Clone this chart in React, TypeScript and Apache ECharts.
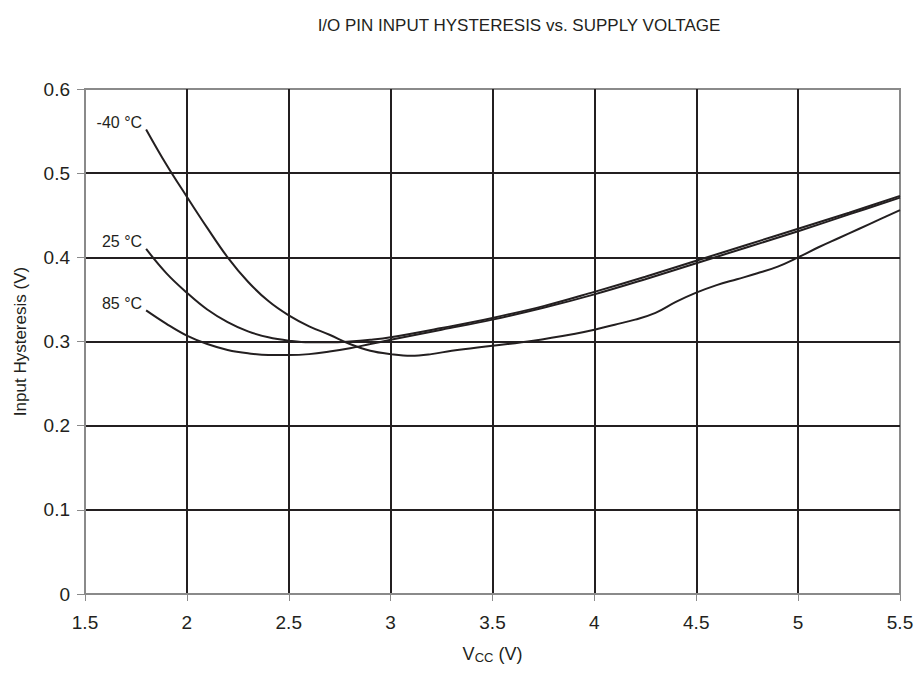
import React, { useEffect, useRef } from "react";
import * as echarts from "echarts";

const titleText = "I/O PIN INPUT HYSTERESIS vs. SUPPLY VOLTAGE";
const yAxisName = "Input Hysteresis (V)";

const vccM40 = [1.8, 1.9, 2.0, 2.1, 2.2, 2.3, 2.4, 2.5, 2.6, 2.7, 2.8, 2.9, 3.0, 3.1, 3.2, 3.3, 3.5, 3.7, 3.9, 4.0, 4.1, 4.2, 4.3, 4.4, 4.5, 4.6, 4.7, 4.8, 4.9, 5.0, 5.1, 5.2, 5.3, 5.4, 5.5];
const hystM40 = [0.552, 0.51, 0.472, 0.435, 0.4, 0.371, 0.348, 0.331, 0.318, 0.308, 0.297, 0.289, 0.285, 0.283, 0.285, 0.289, 0.295, 0.301, 0.309, 0.314, 0.32, 0.326, 0.334, 0.347, 0.358, 0.367, 0.374, 0.381, 0.389, 0.4, 0.412, 0.423, 0.434, 0.445, 0.456];

const vcc25 = [1.8, 1.9, 2.0, 2.1, 2.2, 2.3, 2.4, 2.5, 2.6, 2.7, 2.8, 2.9, 3.0, 3.25, 3.5, 3.75, 4.0, 4.25, 4.5, 4.75, 5.0, 5.25, 5.5];
const hyst25 = [0.41, 0.381, 0.358, 0.338, 0.323, 0.312, 0.305, 0.301, 0.299, 0.299, 0.3, 0.302, 0.305, 0.316, 0.328, 0.342, 0.359, 0.377, 0.396, 0.415, 0.434, 0.453, 0.473];

const vcc85 = [1.8, 1.9, 2.0, 2.1, 2.2, 2.3, 2.4, 2.5, 2.6, 2.7, 2.8, 2.9, 3.0, 3.25, 3.5, 3.75, 4.0, 4.25, 4.5, 4.75, 5.0, 5.25, 5.5];
const hyst85 = [0.337, 0.321, 0.307, 0.297, 0.29, 0.286, 0.284, 0.284, 0.285, 0.288, 0.292, 0.297, 0.302, 0.314, 0.326, 0.34, 0.356, 0.374, 0.393, 0.412, 0.431, 0.451, 0.471];

const seriesNames = ["-40 °C", "25 °C", "85 °C"];

const INK = "#231f20";
const FONT = "Liberation Sans, Arial, sans-serif";

function pairs(xs: number[], ys: number[]) {
  return xs.map((x, i) => [x, ys[i]]);
}

function makeSeries(name: string, xs: number[], ys: number[]) {
  return {
    name,
    type: "line",
    smooth: 0.4,
    symbol: "none",
    lineStyle: { color: INK, width: 2 },
    data: pairs(xs, ys),
    z: 5,
    markPoint: {
      symbol: "circle",
      symbolSize: 0,
      silent: true,
      data: [{ coord: [xs[0], ys[0]] }],
      label: {
        show: true,
        formatter: name,
        position: "left",
        distance: 4,
        offset: [0, -7],
        color: INK,
        fontSize: 16,
        fontFamily: FONT,
      },
    },
  };
}

export default function App() {
  const ref = useRef<HTMLDivElement>(null);
  useEffect(() => {
    if (!ref.current) return;
    const chart = echarts.init(ref.current, null, { renderer: "svg" });
    chart.setOption({
      animation: false,
      backgroundColor: "#ffffff",
      title: {
        text: titleText,
        left: 514,
        top: 12,
        textAlign: "center",
        textStyle: { color: INK, fontSize: 17, fontWeight: "normal", fontFamily: FONT },
      },
      grid: {
        left: 85,
        right: 23,
        top: 89,
        bottom: 79,
        show: true,
        borderColor: "#8a8a8a",
        borderWidth: 2,
        backgroundColor: "transparent",
      },
      xAxis: {
        type: "value",
        min: 1.5,
        max: 5.5,
        interval: 0.5,
        name: "{a|V}{b|CC}{a| (V)}",
        nameLocation: "middle",
        nameGap: 50,
        nameTextStyle: {
          rich: {
            a: { fontSize: 18, color: INK, fontFamily: FONT },
            b: { fontSize: 13, color: INK, fontFamily: FONT, padding: [7, 0, 0, 0] },
          },
        },
        axisLine: { show: true, lineStyle: { color: "#8a8a8a", width: 2 } },
        axisTick: { show: true, length: 7, lineStyle: { color: "#8a8a8a", width: 1 } },
        axisLabel: { color: INK, fontSize: 19, fontFamily: FONT, margin: 19 },
        splitLine: { show: true, showMinLine: false, showMaxLine: false, lineStyle: { color: INK, width: 2 } },
      },
      yAxis: {
        type: "value",
        min: 0,
        max: 0.6,
        interval: 0.1,
        name: yAxisName,
        nameLocation: "middle",
        nameGap: 56,
        nameTextStyle: { color: INK, fontSize: 17, fontFamily: FONT },
        axisLine: { show: true, lineStyle: { color: "#8a8a8a", width: 2 } },
        axisTick: { show: true, length: 8, lineStyle: { color: "#8a8a8a", width: 1 } },
        axisLabel: { color: INK, fontSize: 19, fontFamily: FONT, margin: 15 },
        splitLine: { show: true, showMinLine: false, showMaxLine: false, lineStyle: { color: INK, width: 2 } },
      },
      series: [
        makeSeries(seriesNames[0], vccM40, hystM40),
        makeSeries(seriesNames[1], vcc25, hyst25),
        makeSeries(seriesNames[2], vcc85, hyst85),
      ],
    });
    return () => chart.dispose();
  }, []);
  return <div ref={ref} style={{ width: 923, height: 673, margin: -8 }} />;
}
